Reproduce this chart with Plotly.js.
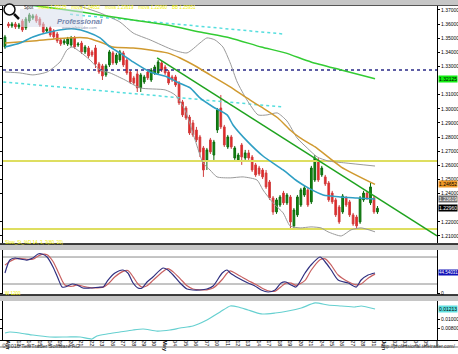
<!DOCTYPE html>
<html><head><meta charset="utf-8">
<script src="https://cdn.plot.ly/plotly-3.0.1.min.js"></script>
<style>html,body{margin:0;padding:0;background:#fff;overflow:hidden}#chart{width:458px;height:354px}</style>
</head><body><div id="chart"></div>
<script>
// ---------------- DATA ----------------
const candleOpen = [
1.3438,1.3601,1.3587,1.3601,1.3580,1.3622,1.3573,1.3622,1.3643,1.3658,
1.3636,1.3601,1.3551,1.3573,1.3551,1.3530,1.3488,1.3466,1.3459,1.3452,
1.3502,1.3452,1.3466,1.3403,1.3431,1.3403,1.3431,1.3318,1.3304,1.3240,
1.3311,1.3396,1.3325,1.3346,1.3396,1.3346,1.3261,1.3219,1.3247,1.3148,
1.3190,1.3261,1.3204,1.3254,1.3254,1.3325,1.3296,1.3261,1.3226,1.3226,
1.3183,1.3049,1.3006,1.2942,1.2900,1.2850,1.2801,1.2723,1.2638,1.2780,
1.2673,1.2850,1.3006,1.2872,1.2730,1.2801,1.2652,1.2638,1.2744,1.2652,
1.2688,1.2659,1.2603,1.2581,1.2567,1.2546,1.2482,1.2369,1.2270,1.2319,
1.2404,1.2334,1.2376,1.2171,1.2249,1.2319,1.2390,1.2426,1.2341,1.2496,
1.2638,1.2532,1.2518,1.2475,1.2404,1.2355,1.2305,1.2270,1.2369,1.2341,
1.2249,1.2234,1.2199,1.2355,1.2404,1.2334,1.2369,1.2270];
const candleHigh = [
1.3523,1.3615,1.3615,1.3615,1.3608,1.3636,1.3650,1.3679,1.3672,1.3672,
1.3650,1.3615,1.3580,1.3587,1.3565,1.3544,1.3502,1.3495,1.3509,1.3516,
1.3516,1.3473,1.3481,1.3452,1.3445,1.3417,1.3452,1.3332,1.3318,1.3318,
1.3417,1.3410,1.3396,1.3417,1.3410,1.3360,1.3275,1.3233,1.3275,1.3254,
1.3240,1.3275,1.3289,1.3311,1.3346,1.3339,1.3311,1.3275,1.3240,1.3240,
1.3197,1.3063,1.3020,1.2957,1.2921,1.2872,1.2815,1.2737,1.2723,1.2794,
1.2780,1.3006,1.3098,1.2886,1.2815,1.2815,1.2737,1.2688,1.2758,1.2709,
1.2709,1.2673,1.2617,1.2596,1.2581,1.2567,1.2496,1.2383,1.2369,1.2390,
1.2419,1.2404,1.2390,1.2298,1.2390,1.2440,1.2454,1.2440,1.2596,1.2673,
1.2652,1.2596,1.2532,1.2489,1.2419,1.2369,1.2319,1.2397,1.2383,1.2355,
1.2263,1.2249,1.2383,1.2419,1.2419,1.2475,1.2383,1.2312];
const candleLow = [
1.3424,1.3573,1.3573,1.3565,1.3565,1.3544,1.3558,1.3608,1.3629,1.3608,
1.3580,1.3530,1.3537,1.3509,1.3495,1.3466,1.3445,1.3452,1.3445,1.3438,
1.3424,1.3438,1.3388,1.3388,1.3360,1.3367,1.3289,1.3247,1.3204,1.3226,
1.3296,1.3311,1.3311,1.3332,1.3296,1.3240,1.3176,1.3169,1.3119,1.3119,
1.3176,1.3204,1.3190,1.3240,1.3240,1.3261,1.3240,1.3169,1.3190,1.3155,
1.3027,1.2942,1.2921,1.2815,1.2801,1.2765,1.2659,1.2518,1.2567,1.2680,
1.2638,1.2829,1.2857,1.2730,1.2716,1.2716,1.2638,1.2624,1.2603,1.2638,
1.2638,1.2553,1.2518,1.2525,1.2503,1.2433,1.2355,1.2249,1.2256,1.2305,
1.2319,1.2319,1.2149,1.2149,1.2234,1.2305,1.2376,1.2305,1.2326,1.2482,
1.2482,1.2518,1.2454,1.2341,1.2326,1.2234,1.2185,1.2256,1.2305,1.2234,
1.2171,1.2149,1.2185,1.2341,1.2355,1.2319,1.2256,1.2256];
const candleClose = [
1.3509,1.3587,1.3601,1.3580,1.3594,1.3558,1.3636,1.3665,1.3658,1.3622,
1.3594,1.3544,1.3565,1.3523,1.3509,1.3481,1.3459,1.3481,1.3495,1.3502,
1.3438,1.3459,1.3403,1.3438,1.3374,1.3381,1.3318,1.3261,1.3233,1.3304,
1.3403,1.3325,1.3381,1.3403,1.3311,1.3254,1.3190,1.3183,1.3148,1.3240,
1.3226,1.3219,1.3275,1.3296,1.3332,1.3275,1.3254,1.3183,1.3204,1.3169,
1.3042,1.2957,1.2935,1.2829,1.2815,1.2780,1.2695,1.2567,1.2709,1.2695,
1.2765,1.2992,1.2872,1.2744,1.2801,1.2730,1.2723,1.2673,1.2659,1.2688,
1.2652,1.2567,1.2532,1.2539,1.2518,1.2447,1.2369,1.2270,1.2355,1.2376,
1.2334,1.2390,1.2199,1.2284,1.2376,1.2426,1.2440,1.2319,1.2581,1.2652,
1.2496,1.2581,1.2468,1.2355,1.2341,1.2249,1.2199,1.2383,1.2319,1.2249,
1.2185,1.2171,1.2369,1.2404,1.2369,1.2447,1.2270,1.22960];

const dayLabels = ["Apr","13","14","15","16","19","20","21","22","23","26","27","28","29","30",
  "May","04","05","06","07","10","11","12","13","14","17","18","19","20","21",
  "24","25","26","27","28","31","Jun","02","03","04","05"];

const maFastX = [0,4.3,8,12.9,17.8,20.1,23.6,27.3,30.2,33,36.8,41.7,46.6,49.4,53.2,56,59.8,63.8,65.5,69.5,74.1,79.9,83.9,87.1,91.4,96.3,101.1,106.3];
const maFastY = [1.3438,1.3466,1.3509,1.3544,1.3565,1.3565,1.3544,1.3502,1.3438,1.3396,1.3332,1.3261,1.3226,1.3190,1.3148,1.3077,1.3013,1.2957,1.2886,1.2773,1.2666,1.2567,1.2489,1.2440,1.2390,1.2376,1.2369,1.23619];

const maMidX = [0,8,17.8,23.6,27.3,31,36.8,41.7,46.6,50.3,55.2,58.9,64.7,69,73.6,78.4,81.9,84.8,89.1,96.6,106.3];
const maMidY = [1.3466,1.3481,1.3502,1.3502,1.3473,1.3438,1.3431,1.3417,1.3396,1.3360,1.3296,1.3240,1.3155,1.3084,1.3013,1.2935,1.2850,1.2794,1.2730,1.2588,1.24652];

const maSlowX = [4,17.8,27.3,36.8,46.6,56,64.7,73.6,80.5,87.9,96.6,106.3];
const maSlowY = [1.3745,1.3700,1.3665,1.3629,1.3594,1.3544,1.3502,1.3438,1.3396,1.3332,1.3275,1.32125];

const bbUpperX = [15.8,20.7,27.3,33,36.8,41.7,48.3,52.3,56,58,60.3,62.6,64.7,66.7,69.5,72.7,75.3,78.2,81,83.9,86.8,89.7,92.8,97.7,106.3];
const bbUpperY = [1.3806,1.3735,1.3679,1.3615,1.3537,1.3488,1.3417,1.3396,1.3466,1.3502,1.3488,1.3438,1.3325,1.3190,1.3063,1.2957,1.2957,1.2971,1.2914,1.2794,1.2723,1.2659,1.2631,1.2617,1.2595];

const bbLowerX = [0,4.3,8,12.1,15.8,17.8,19.3,21.6,24.4,27.3,30.2,34.5,38.8,46,48.9,51.7,54.6,56.9,58.9,60.9,64.7,68.4,72.4,74.1,77,79.9,81.9,84.8,87.9,90.8,92.8,96.6,99.4,102.3,106.3];
const bbLowerY = [1.3261,1.3254,1.3240,1.3261,1.3332,1.3417,1.3438,1.3403,1.3346,1.3275,1.3254,1.3204,1.3148,1.3134,1.3098,1.2992,1.2780,1.2617,1.2567,1.2518,1.2511,1.2518,1.2496,1.2426,1.2334,1.2263,1.2171,1.2157,1.2164,1.2157,1.2129,1.2100,1.2143,1.2157,1.2129];

const trendX = [43.7,124.1];
const trendY = [1.3360,1.2100];
const channelUpperX = [18.7,79.9];
const channelUpperY = [1.3669,1.3530];
const channelLowerX = [-0.5,79.9];
const channelLowerY = [1.3190,1.3013];
const yellowLevels = [1.2631,1.2150];
const blueLevel = [1.3275];
// 1.32 and 1.23 are hidden behind the value labels in the original
const priceTicks = [1.21,1.22,1.24,1.25,1.26,1.27,1.28,1.29,1.30,1.31,1.33,1.34,1.35,1.36,1.37];

const stochX = [0,1.4,2.9,4.3,6.3,8,9.5,10.6,12.1,13.8,15.2,16.4,17.2,19.3,20.7,22.4,24.4,27.3,28.2,29.6,31.6,33.9,35.3,36.8,38.2,39.4,40.8,42.5,45.4,46.8,48.3,50.3,52.3,54,56,58,59.8,62.4,63.8,64.7,67,69.8,71.8,73.6,75.6,77.6,79.3,80.7,82.2,83.6,86.2,87.9,90.5,92,93.7,95.7,98.6,100.9,102.3,104.3,106.3];
const stochK = [44.4,73.3,77.8,75.6,73.3,77.8,86.7,86.7,80,57.8,33.3,13.3,13.3,20,17.8,11.1,11.1,13.3,13.3,28.9,44.4,51.1,44.4,22.2,11.1,11.1,24.4,35.6,55.6,51.1,40,22.2,8.9,6.7,6.7,8.9,15.6,44.4,51.1,44.4,33.3,22.2,15.6,6.7,2.2,6.7,22.2,24.4,17.8,13.3,44.4,62.2,80,68.9,51.1,28.9,22.2,13.3,28.9,40,44.54031];
const stochD = [62,70,76,77,75,75,82,86,85,70,48,28,18,15,18,15,12,12,13,20,36,48,50,36,20,13,16,28,48,54,47,32,16,9,7,7,11,30,44,49,40,28,20,12,5,4,14,22,22,17,28,50,74,76,62,40,25,18,20,33,42];
const stochLevels = [80,20];

const volX = [0,1.4,4.3,8,12.9,17.8,21.6,25,26.4,29.3,33,36.8,39.7,43.7,47.4,50.3,54,58,61.8,64.7,67,69.8,73.6,77.6,81.3,85.1,89.1,92.8,96.6,100.6,102.3,106.3];
const volY = [0.00702,0.00723,0.00702,0.00659,0.00617,0.00617,0.00617,0.00574,0.00638,0.00681,0.00723,0.00766,0.00787,0.00744,0.00766,0.00808,0.00851,0.00979,0.01149,0.01277,0.01256,0.01192,0.01107,0.01128,0.01170,0.01234,0.01341,0.01298,0.01277,0.01256,0.01277,0.01213];
const volTicks = [0.008,0.010];

// ---------------- LAYOUT HELPERS ----------------
const W = 458, H = 354;
const fx = p => p / W;
const fy = p => 1 - p / H;
const FONT = "Liberation Sans, Arial, sans-serif";
const XR = [-0.57, 124.1];
const last = a => a[a.length - 1];
const candleX = candleOpen.map((_, i) => i);

const traces = [];
yellowLevels.forEach(v => traces.push({type:'scatter', mode:'lines', x:XR, y:[v,v],
  line:{color:'#dede60', width:2}}));
blueLevel.forEach(v => traces.push({type:'scatter', mode:'lines', x:XR, y:[v,v],
  line:{color:'#2a2a88', width:1.5, dash:'dot'}}));
traces.push({type:'scatter', mode:'lines', x:channelUpperX, y:channelUpperY, line:{color:'#55dede', width:1.5, dash:'dot'}});
traces.push({type:'scatter', mode:'lines', x:channelLowerX, y:channelLowerY, line:{color:'#55dede', width:1.5, dash:'dot'}});
traces.push({type:'scatter', mode:'lines', x:bbUpperX, y:bbUpperY, line:{color:'#9a9a9a', width:1, shape:'spline', smoothing:0.6}});
traces.push({type:'scatter', mode:'lines', x:bbLowerX, y:bbLowerY, line:{color:'#9a9a9a', width:1, shape:'spline', smoothing:0.6}});
traces.push({type:'scatter', mode:'lines', x:maSlowX, y:maSlowY, line:{color:'#33cc33', width:1.5, shape:'spline', smoothing:0.6}});
traces.push({type:'scatter', mode:'lines', x:maMidX, y:maMidY, line:{color:'#d09a30', width:1.5, shape:'spline', smoothing:0.6}});
traces.push({type:'scatter', mode:'lines', x:maFastX, y:maFastY, line:{color:'#2f9fc4', width:1.6, shape:'spline', smoothing:0.6}});
traces.push({type:'scatter', mode:'lines', x:trendX, y:trendY, line:{color:'#1fa31f', width:1.5}});
traces.push({type:'candlestick', x:candleX, open:candleOpen, high:candleHigh, low:candleLow, close:candleClose,
  xaxis:'x', yaxis:'y', whiskerwidth:0, hoverinfo:'skip',
  increasing:{line:{color:'#0b6b0b', width:1}, fillcolor:'#138a13'},
  decreasing:{line:{color:'#d04040', width:1}, fillcolor:'#ee1c1c'}});
stochLevels.forEach(v => traces.push({type:'scatter', mode:'lines', x:XR, y:[v,v], xaxis:'x', yaxis:'y2',
  line:{color:'#8a8a8a', width:1}}));
traces.push({type:'scatter', mode:'lines', x:stochX, y:stochD, xaxis:'x', yaxis:'y2', line:{color:'#c86060', width:1.2, shape:'spline', smoothing:0.7}});
traces.push({type:'scatter', mode:'lines', x:stochX, y:stochK, xaxis:'x', yaxis:'y2', line:{color:'#303080', width:1.2, shape:'spline', smoothing:0.7}});
traces.push({type:'scatter', mode:'lines', x:volX, y:volY, xaxis:'x', yaxis:'y3', line:{color:'#66d0d0', width:1.2, shape:'spline', smoothing:0.6}});
traces.forEach(t => { if (t.type === 'scatter') { t.hoverinfo = 'skip'; t.showlegend = false; if (!t.xaxis) { t.xaxis = 'x'; t.yaxis = 'y'; } } });

const tickFont = {family:FONT, size:5, color:'#000'};
const axCommon = {showgrid:false, zeroline:false, showline:true, linecolor:'#000', linewidth:1,
  mirror:'ticks', ticks:'outside', ticklen:2, tickcolor:'#000', side:'right', fixedrange:true, tickfont:tickFont};
const lbl = (yref, y, txt, bg, fg, size) => ({xref:'paper', yref:yref, x:fx(438), y:y, xanchor:'left', text:txt,
  showarrow:false, bgcolor:bg, borderpad:0, font:{family:FONT, size:size || 5, color:fg}});

const layout = {
  width:W, height:H, margin:{l:0, r:0, t:0, b:0, pad:0},
  paper_bgcolor:'#fff', plot_bgcolor:'#fff', showlegend:false, font:{family:FONT},
  xaxis:{domain:[fx(3), fx(437)], range:XR, anchor:'free', position:fy(336.5), showgrid:false, zeroline:false, showline:false,
    tickvals:dayLabels.map((_, i) => 3 * i + 1.15),
    ticktext:dayLabels.map(s => /[A-Za-z]/.test(s) ? '<b>' + s + '</b>' : s),
    ticks:'', tickfont:{family:FONT, size:5.5, color:'#000'}, rangeslider:{visible:false}, fixedrange:true},
  yaxis:Object.assign({}, axCommon, {domain:[fy(243), fy(6)], range:[1.2050, 1.3728], anchor:'x',
    tickvals:priceTicks, ticktext:priceTicks.map(v => v.toFixed(5))}),
  yaxis2:Object.assign({}, axCommon, {domain:[fy(294), fy(250)], range:[-2.2, 95.6], anchor:'x',
    tickvals:[0], ticktext:['0']}),
  yaxis3:Object.assign({}, axCommon, {domain:[fy(340), fy(301)], range:[0.00553, 0.01383], anchor:'x',
    tickvals:volTicks, ticktext:volTicks.map(v => v.toFixed(5))}),
  shapes:[
    {type:'rect', xref:'paper', yref:'paper', x0:0, x1:1, y0:fy(5), y1:1, fillcolor:'#c6c6c6', line:{width:0}},
    {type:'line', xref:'paper', yref:'paper', x0:0, x1:1, y0:fy(5.5), y1:fy(5.5), line:{color:'#555', width:1}},
    {type:'rect', xref:'paper', yref:'paper', x0:0, x1:1, y0:fy(250), y1:fy(244.5), fillcolor:'#c6c6c6', line:{width:0}},
    {type:'line', xref:'paper', yref:'paper', x0:0, x1:1, y0:fy(244), y1:fy(244), line:{color:'#000', width:1.5}},
    {type:'rect', xref:'paper', yref:'paper', x0:0, x1:1, y0:fy(301), y1:fy(295.5), fillcolor:'#c6c6c6', line:{width:0}},
    {type:'line', xref:'paper', yref:'paper', x0:0, x1:1, y0:fy(295), y1:fy(295), line:{color:'#000', width:1.5}},
    {type:'line', xref:'paper', yref:'paper', x0:0, x1:1, y0:fy(340.5), y1:fy(340.5), line:{color:'#000', width:1}},
    {type:'line', xref:'paper', yref:'paper', x0:fx(437), x1:fx(437), y0:fy(347), y1:fy(340), line:{color:'#000', width:1}},
    {type:'line', xref:'paper', yref:'paper', x0:0, x1:1, y0:fy(347), y1:fy(347), line:{color:'#777', width:1}},
    {type:'rect', xref:'paper', yref:'paper', x0:fx(20), x1:fx(83), y0:fy(27), y1:fy(9), fillcolor:'rgba(215,222,236,0.55)', line:{width:0}},
    {type:'circle', xref:'paper', yref:'paper', x0:fx(4), x1:fx(15), y0:fy(15), y1:fy(4), fillcolor:'#fff', line:{color:'#111', width:1.5}},
    {type:'line', xref:'paper', yref:'paper', x0:fx(14), x1:fx(19), y0:fy(14), y1:fy(19), line:{color:'#111', width:2.5}}
  ],
  annotations:[
    {xref:'paper', yref:'paper', x:fx(55), y:fy(14.5), text:'<b><i>Professional</i></b>', showarrow:false,
      font:{family:FONT, size:7.5, color:'#7587ad'}},
    {xref:'paper', yref:'paper', x:fx(60), y:fy(23.5), text:'www.teletrader.com', showarrow:false,
      font:{family:FONT, size:4, color:'#8a96b0'}},
    {xref:'paper', yref:'paper', x:fx(22), y:fy(2.6), xanchor:'left', text:'Spot', showarrow:false,
      font:{family:FONT, size:4.5, color:'#222'}},
    {xref:'paper', yref:'paper', x:fx(36), y:fy(2.6), xanchor:'left',
      text:'mova 1.32125    mova 1.24652    mova 1.23619    mova 1.22960    BB 1.25951', showarrow:false,
      font:{family:FONT, size:4.5, color:'#f2f200'}},
    {xref:'paper', yref:'paper', x:fx(3), y:fy(247.3), xanchor:'left', text:'Slow_St_%D 14, 3, 3(80, 20)', showarrow:false,
      font:{family:FONT, size:4.5, color:'#f2f200'}},
    {xref:'paper', yref:'paper', x:fx(3), y:fy(298.3), xanchor:'left', text:'W 1200', showarrow:false,
      font:{family:FONT, size:4.5, color:'#f2f200'}},
    lbl('y', last(maSlowY), last(maSlowY).toFixed(5), '#11ee11', '#000'),
    lbl('y', last(maMidY), last(maMidY).toFixed(5), '#f09a28', '#000'),
    lbl('y', last(maFastY), last(maFastY).toFixed(5), '#707070', '#fff'),
    lbl('y', last(candleClose), last(candleClose).toFixed(5), '#000', '#fff'),
    lbl('y2', last(stochK), last(stochK).toFixed(5), '#1010b8', '#fff', 4.5),
    lbl('y3', last(volY), last(volY).toFixed(5), '#60e0e0', '#000'),
    {xref:'paper', yref:'paper', x:fx(0), y:fy(350.7), xanchor:'left', text:'© 2010 TeleTrader Software AG', showarrow:false,
      font:{family:FONT, size:5.5, color:'#333'}},
    {xref:'paper', yref:'paper', x:fx(458), y:fy(350.7), xanchor:'right', text:'http://professional.teletrader.com/', showarrow:false,
      font:{family:FONT, size:5, color:'#333'}}
  ]
};

Plotly.newPlot('chart', traces, layout, {displayModeBar:false, staticPlot:true});
</script>
</body></html>
